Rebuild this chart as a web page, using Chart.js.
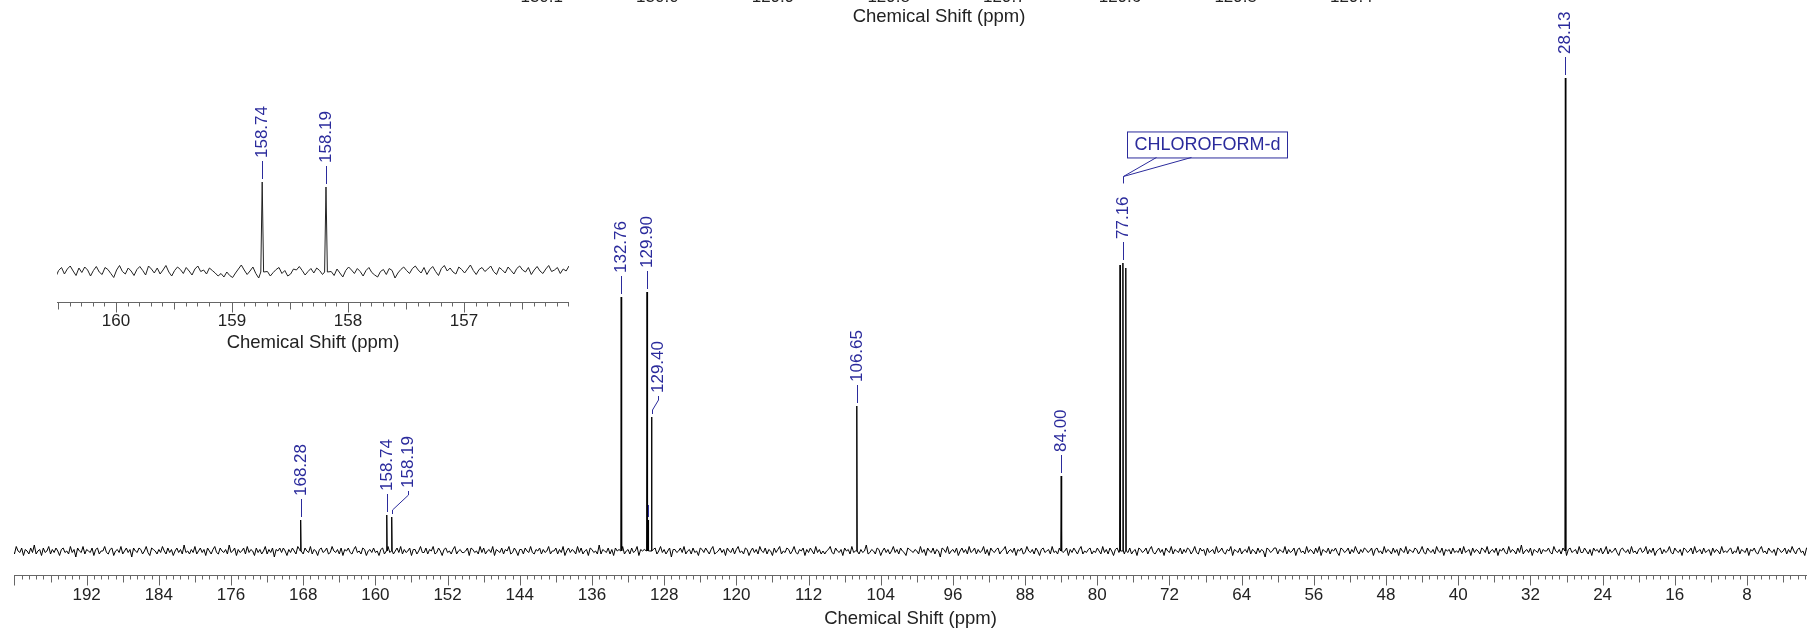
<!DOCTYPE html>
<html>
<head>
<meta charset="utf-8">
<title>13C NMR spectrum</title>
<script src="https://cdn.jsdelivr.net/npm/chart.js@4.4.1/dist/chart.umd.min.js"></script>
<style>
  html, body { margin: 0; padding: 0; background: #fff; }
  #wrap { position: relative; width: 1807px; height: 629px; overflow: hidden; }
  canvas { position: absolute; left: 0; }
  #mainChart { top: 0; }
  #insetChart { top: 0; }
  #topChart { top: -30px; }
</style>
</head>
<body>
<div id="wrap">
  <canvas id="mainChart" width="1807" height="629"></canvas>
  <canvas id="topChart" width="1807" height="70"></canvas>
  <canvas id="insetChart" width="620" height="360"></canvas>
</div>
<script>
// Peaks (ppm) and their heights (arbitrary intensity units)
const peakShifts  = [168.28, 158.74, 158.19, 132.76, 129.90, 129.78, 129.40, 106.65, 84.00, 77.48, 77.16, 76.84, 28.13];
const peakHeights = [31, 36, 34, 254, 259, 31, 134, 145, 75, 286, 288, 283, 473];

// Peaks that carry a shift label
const labelledShifts = [168.28, 158.74, 158.19, 132.76, 129.90, 129.78, 129.40, 106.65, 84.00, 77.16, 28.13];
const solventLabel = 'CHLOROFORM-d';

// Axis tick labels
const mainTicks  = [192, 184, 176, 168, 160, 152, 144, 136, 128, 120, 112, 104, 96, 88, 80, 72, 64, 56, 48, 40, 32, 24, 16, 8];
const insetTicks = [160, 159, 158, 157];
const topTicks   = [130.1, 130.0, 129.9, 129.8, 129.7, 129.6, 129.5, 129.4];   // cut off by the top edge
const axisTitle  = 'Chemical Shift (ppm)';

// Baseline noise of the full spectrum (one value every 0.2 ppm from 200.2 ppm),
// stored in steps of 1.5 intensity units
const mainNoiseStart = 200.2;
const mainNoiseStep = 0.2;
const mainNoiseUnit = 1.5;
const mainNoise = [
  1,-2,3,0,-1,2,-3,1,0,-2,2,-1,4,-2,0,1,-3,2,-1,0,3,-2,1,-1,2,0,-3,1,2,-1,0,-2,3,-1,1,-4,2,0,-1,3,-2,1,0,-1,2,-3,1,2,-2,0,
  0,3,-1,-2,1,2,-3,0,1,-1,3,-2,0,2,-1,1,-4,2,0,-1,2,1,-2,0,3,-1,-3,2,1,0,-2,1,-1,3,0,-2,2,-1,1,-3,0,2,-1,1,-2,4,-1,0,-2,1,
  -1,3,-2,0,2,-1,1,-3,2,0,-2,1,3,-1,-2,2,0,-1,1,-2,4,-1,0,2,-3,1,-1,0,2,-2,3,-1,1,0,-3,2,-1,1,-2,0,3,-2,1,-1,2,-4,1,0,2,-1,
  2,0,-3,1,-1,2,0,-2,3,1,-1,-2,2,0,-1,3,-2,1,0,-3,1,2,-1,0,2,-2,-1,3,0,-1,1,-2,2,-3,1,0,2,-1,-2,1,3,-1,0,-2,2,1,-3,0,1,-1,
  2,-1,0,-3,1,2,-2,0,3,-1,1,-2,0,2,-1,3,-2,1,-1,0,2,-3,1,1,-2,0,3,-1,-1,2,-2,1,0,3,-2,-1,2,0,-3,1,2,-1,0,-2,1,3,-2,0,1,-1,
  -1,0,2,-3,2,1,-1,0,-2,3,-1,2,-2,0,1,-1,3,-3,1,0,-1,2,-2,1,0,3,-2,-1,2,0,-3,1,1,-2,2,0,-1,3,-1,-2,1,0,2,-2,1,-1,0,3,-2,0,
  0,2,-2,1,-1,3,-3,0,2,-1,1,0,-2,3,-1,2,-2,0,1,-3,2,1,-1,0,-2,4,-2,1,0,-1,2,-2,1,-3,2,0,1,-1,3,-2,0,1,-2,2,-1,0,3,-3,1,0,
  1,-3,2,0,-1,1,2,-2,0,3,-1,1,-2,0,2,-4,1,1,-1,0,2,-1,3,-2,0,1,-2,2,-1,0,-3,2,1,-1,2,0,-2,1,3,-2,-1,0,2,-1,1,-3,2,0,-1,2,
  -2,1,3,-1,0,-2,2,1,-3,0,2,-1,1,-2,3,0,-1,2,-2,1,0,-3,2,-1,1,3,-2,0,-1,2,1,-2,0,3,-1,-2,1,0,2,-3,1,-1,2,0,-2,3,-1,1,-2,0,
  -2,0,1,3,-1,-2,2,0,-1,1,-3,2,0,1,-2,3,-1,0,2,-2,1,-1,0,4,-2,-1,1,0,-2,2,1,-3,0,2,-1,1,-2,0,3,-1,1,-2,2,0,-1,-3,2,1,0,-1,
  1,0,-2,3,-1,1,-3,2,0,-1,2,-2,1,0,-4,2,1,-1,3,-2,0,1,-1,2,-3,0,2,-1,1,-2,3,-1,0,2,-2,1,-1,0,3,-2,1,-3,2,0,-1,1,2,-2,0,1,
  3,-2,0,1,-1,2,-3,1,0,2,-2,-1,3,0,-1,1,-2,2,0,-3,1,2,-1,0,1,-2,3,-1,0,-2,2,1,-1,0,2,-3,1,-1,2,0,-2,1,3,-2,0,-1,1,2,-2,0,
  -1,2,0,-2,3,-1,1,-2,2,0,-3,1,2,-1,0,3,-2,1,-1,2,-2,0,1,-3,2,1,-1,0,2,-2,1,3,-1,-2,0,2,-1,1,-3,2,0,-1,3,-2,1,0,-1,2,-2,1,
  -1,2,1,-2,0,3,-1,-2,2,0,1,-3,2,-1,0,1,-2,3,-1,0,2,-1,-2,1,0,3,-3,1,0,-1,2,-2,0,1,-1,3,-2,1,0,-2,2,-1,1,0,-4,2,1,-1,0,2,
  2,-2,1,0,-1,3,-2,1,-1,0,2,-3,1,2,-1,0,-2,3,-1,1,0,-2,2,-1,3,-3,1,0,-1,2,-2,1,0,2,-1,-3,2,1,-1,0,2,-2,1,-1,3,0,-2,1,-1,2,
  1,-1,0,2,-3,1,2,-1,0,-2,3,-1,1,0,-2,2,-1,1,-3,2,0,-1,3,-2,1,0,-1,2,1,-2,0,3,-1,-2,2,0,-1,1,-2,3,0,-1,2,-3,1,0,1,-2,2,-1,
  0,-1,2,-2,3,-1,0,1,-3,2,-1,1,0,-2,2,1,-1,3,-2,0,1,-1,2,-3,1,0,2,-1,-2,3,-1,1,0,-2,2,-1,4,-2,0,1,-1,2,-3,1,0,-1,2,-2,1,0,
  0,2,-1,-2,3,0,-1,1,-2,2,0,-3,1,2,-1,0,1,-2,3,-1,-1,2,0,-2,1,-3,2,0,1,-1,2,-2,0,3,-2,1,-1,0,2,-1,-3,1,2,0,-1,1,-2,3,-1,0,
  -2,1,2,-1,0,3,-2,1,-1,2,-3,0,1,2,-2,1,-1,0,3,-1,-2,2,0,-1,1,-3,2,1,-1,0,2,-2,3,-1,0,1,-2,2,-1,0,1,-3,2,-1,1,0,-2,3,-1,0,
  -1,1,2,-2,0,-1,3,-2,1,0,-1,2,-3,1,0,2,-1,-2,1,3,-1,0,-2,2,0,-1,1,-3,2,1,-1,0,2,-2,1,-1,3,0,-2,1,2,-1,0,-3,2,1,-1,0,2,-1
];

// Baseline noise of the enlarged 156-160.5 ppm region (one value every 0.025 ppm from 160.52 ppm)
const insetNoiseStart = 160.52;
const insetNoiseStep = 0.025;
const insetNoiseUnit = 1;
const insetNoise = [
  -2.0,0.6,1.8,-0.8,1.2,2.4,0.4,-1.4,1.6,-0.2,2.0,0.8,-1.6,0.6,2.2,0.0,-1.0,1.8,1.0,-0.6,-2.2,0.8,2.6,0.2,-0.8,1.6,0.4,-1.4,1.0,2.2,
  0.6,-1.2,2.4,1.2,-0.4,1.6,-0.8,0.8,2.6,0.0,-1.6,0.6,2.0,1.0,-0.6,1.8,0.4,-1.2,1.2,2.4,0.2,0.8,-0.8,1.6,0.6,-0.4,-1.6,-0.6,-2.0,0.0,
  -1.4,-2.2,-0.4,1.2,2.8,0.8,-1.0,0.4,2.0,-0.6,-2.4,-0.8,1.0,0.2,-1.6,-0.2,1.0,1.8,-0.6,0.6,-1.6,-0.8,1.2,0.8,2.2,0.6,-1.2,0.2,1.4,-0.4,
  1.6,0.6,-1.0,1.0,2.4,0.2,-1.4,1.2,-0.4,-2.0,0.6,2.0,0.8,-0.6,1.4,0.2,-1.6,0.6,1.8,-0.2,-1.2,-2.0,0.2,1.0,-1.0,1.4,0.6,-2.4,-0.4,1.0,
  2.0,0.6,-0.6,1.4,2.4,0.8,-0.4,1.8,-1.0,1.0,2.2,0.2,-1.4,1.4,2.6,0.4,1.6,0.0,-0.8,2.0,1.0,-0.4,1.2,2.8,0.6,-1.0,1.0,1.8,0.2,1.2,
  2.4,0.2,-1.0,1.8,0.8,-0.4,2.0,0.6,-0.8,1.4,2.4,0.8,0.0,1.8,-1.0,0.8,2.2,0.4,-0.6,1.2,2.6,0.2,0.8,1.8,-0.6,1.2,0.4,2.4,0.8,3.0
];

const FONT = '"Liberation Sans", Arial, Helvetica, sans-serif';
const BLUE = '#2b2b9c';

// Merge noise and peaks into one sorted line
function buildSpectrum(noise, unit, start, step, halfWidth) {
  const end = start - (noise.length - 1) * step;
  const pts = [];
  noise.forEach((v, i) => {
    const x = start - i * step;
    if (peakShifts.some(p => Math.abs(p - x) < halfWidth * 2)) return;
    pts.push({ x: x, y: v * unit });
  });
  peakShifts.forEach((p, i) => {
    if (p > start || p < end) return;
    pts.push({ x: p + halfWidth, y: 0 }, { x: p, y: peakHeights[i] }, { x: p - halfWidth, y: 0 });
  });
  return pts.sort((a, b) => b.x - a.x);
}

function isMultiple(v, step) {
  const r = v / step;
  return Math.abs(r - Math.round(r)) < 1e-6;
}

// Draws the ppm axis: line, minor/medium/major ticks, labels and title
function axisPlugin(cfg) {
  return {
    id: 'nmrAxis',
    afterDraw(chart) {
      const ctx = chart.ctx, a = chart.chartArea, xs = chart.scales.x;
      const y0 = a.bottom + 0.5;
      ctx.save();
      ctx.strokeStyle = '#666';
      ctx.lineWidth = 1;
      ctx.beginPath();
      if (cfg.line) {
        ctx.moveTo(a.left, y0);
        ctx.lineTo(a.right, y0);
      }
      if (cfg.minorStep) {
        for (let k = 0; ; k++) {
          const v = cfg.tickStart - k * cfg.minorStep;
          if (v < xs.min - 1e-9) break;
          if (v > xs.max + 1e-9) continue;
          const len = isMultiple(v, cfg.majorStep) ? 10 : isMultiple(v, cfg.mediumStep) ? 7 : 4;
          const px = Math.round(xs.getPixelForValue(v)) + 0.5;
          ctx.moveTo(px, y0);
          ctx.lineTo(px, y0 + len);
        }
      }
      ctx.stroke();
      ctx.fillStyle = '#222';
      ctx.textAlign = 'center';
      ctx.textBaseline = 'middle';
      ctx.font = '17px ' + FONT;
      cfg.labels.forEach(v => {
        ctx.fillText(v.toFixed(cfg.decimals), xs.getPixelForValue(v), a.bottom + cfg.labelOffset);
      });
      ctx.font = '18.5px ' + FONT;
      ctx.fillText(axisTitle, (a.left + a.right) / 2, a.bottom + cfg.titleOffset);
      ctx.restore();
    }
  };
}

function drawCallout(ctx, text, x, textTop) {
  const stemBottom = textTop - 13;
  const apex = stemBottom - 7;
  const boxBottom = apex - 19;
  const boxTop = boxBottom - 26;
  const boxLeft = Math.round(x + 3) + 0.5;
  ctx.save();
  ctx.font = '18px ' + FONT;
  const w = Math.round(ctx.measureText(text).width + 14);
  ctx.beginPath();
  ctx.moveTo(x, stemBottom);
  ctx.lineTo(x, apex);
  ctx.lineTo(boxLeft + 29, boxBottom);
  ctx.moveTo(x, apex);
  ctx.lineTo(boxLeft + 64, boxBottom);
  ctx.stroke();
  ctx.strokeRect(boxLeft, boxTop + 0.5, w, boxBottom - boxTop);
  ctx.textAlign = 'center';
  ctx.textBaseline = 'middle';
  ctx.fillText(text, boxLeft + w / 2, (boxTop + boxBottom) / 2 + 1);
  ctx.restore();
}

// Vertical shift labels with their leader lines
function labelPlugin(cfg) {
  return {
    id: 'peakLabels',
    afterDatasetsDraw(chart) {
      const ctx = chart.ctx, xs = chart.scales.x, ys = chart.scales.y;
      ctx.save();
      ctx.strokeStyle = BLUE;
      ctx.fillStyle = BLUE;
      ctx.lineWidth = 1;
      ctx.font = '17px ' + FONT;
      ctx.textAlign = 'left';
      ctx.textBaseline = 'middle';
      labelledShifts.forEach(ppm => {
        if (ppm < xs.min || ppm > xs.max) return;
        const h = peakHeights[peakShifts.indexOf(ppm)];
        const n = cfg.nudges.find(d => Math.abs(d.shift - ppm) < 1e-6) || {};
        const px = Math.round(xs.getPixelForValue(ppm)) + 0.5;
        const tx = px + (n.dx || 0);
        const y1 = Math.round(ys.getPixelForValue(h)) - 3;
        const y2 = y1 - (n.tick || 18);
        ctx.beginPath();
        if (n.dx) {
          ctx.moveTo(px, y1);
          ctx.lineTo(px, y1 - 4);
          ctx.lineTo(tx, y2 + 4);
          ctx.lineTo(tx, y2);
        } else {
          ctx.moveTo(px, y1);
          ctx.lineTo(px, y2);
        }
        ctx.stroke();
        if (n.noText) return;
        const text = ppm.toFixed(2);
        const ty = y2 - 3;
        ctx.save();
        ctx.translate(tx, ty);
        ctx.rotate(-Math.PI / 2);
        ctx.fillText(text, 0, 0);
        ctx.restore();
        if (cfg.callout && Math.abs(cfg.callout - ppm) < 1e-6) {
          drawCallout(ctx, solventLabel, tx, ty - ctx.measureText(text).width);
        }
      });
      ctx.restore();
    }
  };
}

function spectrumDataset(data, color) {
  return {
    data: data,
    borderColor: color,
    borderWidth: 1,
    borderJoinStyle: 'round',
    pointRadius: 0,
    tension: 0,
    fill: false
  };
}

const baseOptions = {
  responsive: false,
  animation: false,
  events: [],
  plugins: { legend: { display: false }, tooltip: { enabled: false } }
};

// Full spectrum
new Chart(document.getElementById('mainChart'), {
  type: 'line',
  data: { datasets: [spectrumDataset(buildSpectrum(mainNoise, mainNoiseUnit, mainNoiseStart, mainNoiseStep, 0.05), '#000')] },
  options: Object.assign({}, baseOptions, {
    layout: { padding: { left: 14, right: 0, top: 20, bottom: 54 } },
    scales: {
      x: { type: 'linear', reverse: true, min: 1.35, max: 200.05, display: false },
      y: { type: 'linear', min: -24, max: 531, display: false }
    }
  }),
  plugins: [
    axisPlugin({ line: true, tickStart: 200, minorStep: 0.8, mediumStep: 4, majorStep: 8,
                 labels: mainTicks, decimals: 0, labelOffset: 20, titleOffset: 44 }),
    labelPlugin({ callout: 77.16, nudges: [
      { shift: 129.40, dx: 6 },
      { shift: 158.19, dx: 16, tick: 23 },
      { shift: 129.78, tick: 12, noText: true }
    ] })
  ]
});

// Axis of a further enlargement, cut off by the top edge
new Chart(document.getElementById('topChart'), {
  type: 'line',
  data: { datasets: [] },
  options: Object.assign({}, baseOptions, {
    layout: { padding: { left: 470, right: 399, top: 0, bottom: 63 } },
    scales: {
      x: { type: 'linear', reverse: true, min: 129.351, max: 130.162, display: false },
      y: { type: 'linear', min: 0, max: 1, display: false }
    }
  }),
  plugins: [axisPlugin({ line: false, labels: topTicks, decimals: 1, labelOffset: 20, titleOffset: 40 })]
});

// Enlarged 156-160.5 ppm region
new Chart(document.getElementById('insetChart'), {
  type: 'line',
  data: { datasets: [spectrumDataset(buildSpectrum(insetNoise, insetNoiseUnit, insetNoiseStart, insetNoiseStep, 0.012), '#222')] },
  options: Object.assign({}, baseOptions, {
    layout: { padding: { left: 57, right: 51, top: 100, bottom: 58 } },
    scales: {
      x: { type: 'linear', reverse: true, min: 156.095, max: 160.509, display: false },
      y: { type: 'linear', min: -12, max: 68.8, display: false }
    }
  }),
  plugins: [
    axisPlugin({ line: true, tickStart: 160.5, minorStep: 0.1, mediumStep: 0.5, majorStep: 1,
                 labels: insetTicks, decimals: 0, labelOffset: 19, titleOffset: 41 }),
    labelPlugin({ nudges: [] })
  ]
});
</script>
</body>
</html>
